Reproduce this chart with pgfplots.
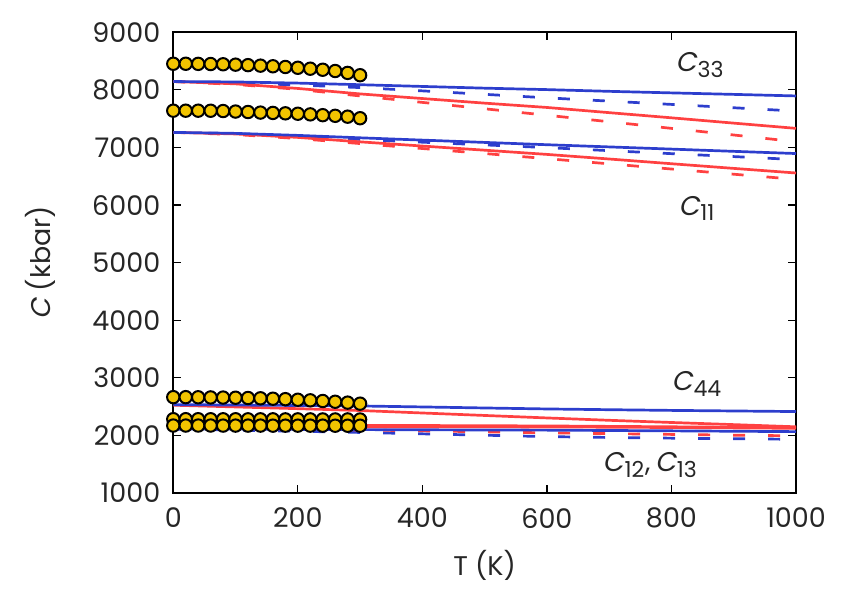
\documentclass[border=0pt]{standalone}
\usepackage{fontspec}
\setmainfont{Poppins}
\newfontfamily\slfont[FakeSlant=0.2]{Poppins}
\usepackage{pgfplots}
\pgfplotsset{compat=1.18}
\usetikzlibrary{calc}
\definecolor{myblue}{RGB}{45,62,205}
\definecolor{myred}{RGB}{255,65,65}
\definecolor{mygold}{RGB}{242,196,0}
\newcommand{\Cs}[1]{{\slfont C}\kern0.5pt\textsubscript{\fontsize{11pt}{11pt}\selectfont #1}}
\pgfplotsset{
  circ/.style={only marks, mark=*, mark size=3.1pt, mark options={fill=mygold, draw=black, line width=1pt}},
  sol/.style={line width=1.35pt, no markers},
  dsh/.style={line width=1.35pt, no markers, dash pattern=on 6pt off 11.5pt},
}
\begin{document}
\begin{tikzpicture}
\begin{axis}[
  width=311.4pt, height=230.4pt, scale only axis,
  xmin=0, xmax=1000, ymin=1000, ymax=9000,
  xtick={0,200,...,1000}, ytick={1000,2000,...,9000},
  tick align=inside, major tick length=4pt,
  tick style={black, line width=0.6pt},
  axis line style={black, line width=1pt},
  /pgf/number format/.cd, 1000 sep={}, assume math mode=true,
  /pgfplots/.cd,
  tick label style={font=\fontsize{13.5pt}{14pt}\selectfont, text=black!85},
  label style={font=\fontsize{13.5pt}{14pt}\selectfont, text=black!85},
  xlabel={T (K)}, ylabel={{\slfont C} (kbar)},
  xlabel style={at={(axis description cs:0.5,-0.156)}, anchor=center},
  ylabel style={at={(axis description cs:-0.2135,0.5)}, anchor=center, rotate=0},
  yticklabel style={xshift=-3pt},
  xticklabel style={yshift=-4pt},
  clip=true,
]
% ---- C33 ----
\addplot[myred, dsh] coordinates {(0,8145)(100,8095)(200,8010)(300,7895)(400,7783)(500,7672)(600,7560)(700,7447)(800,7332)(900,7217)(1000,7100)};
\addplot[myblue, dsh] coordinates {(0,8145)(100,8120)(200,8085)(300,8040)(400,7983)(500,7923)(600,7862)(700,7805)(800,7748)(900,7690)(1000,7632)};
\addplot[myred, sol] coordinates {(0,8145)(100,8105)(200,8025)(300,7930)(400,7850)(500,7770)(600,7695)(700,7605)(800,7515)(900,7423)(1000,7332)};
\addplot[myblue, sol] coordinates {(0,8145)(100,8138)(200,8118)(300,8090)(400,8060)(500,8030)(600,8005)(700,7975)(800,7948)(900,7922)(1000,7895)};
% ---- C11 ----
\addplot[myred, dsh] coordinates {(0,7262)(100,7225)(200,7155)(300,7068)(400,6982)(500,6895)(600,6806)(700,6716)(800,6626)(900,6536)(1000,6446)};
\addplot[myblue, dsh] coordinates {(0,7262)(100,7240)(200,7195)(300,7140)(400,7092)(500,7045)(600,6998)(700,6945)(800,6893)(900,6842)(1000,6790)};
\addplot[myred, sol] coordinates {(0,7262)(100,7235)(200,7175)(300,7098)(400,7025)(500,6953)(600,6880)(700,6800)(800,6718)(900,6637)(1000,6557)};
\addplot[myblue, sol] coordinates {(0,7262)(100,7245)(200,7210)(300,7168)(400,7128)(500,7088)(600,7048)(700,7010)(800,6972)(900,6933)(1000,6895)};
% ---- C12, C13 ----
\addplot[myblue, dsh] coordinates {(0,2110)(100,2092)(200,2073)(300,2052)(400,2028)(500,2004)(600,1980)(700,1965)(800,1953)(900,1943)(1000,1933)};
\addplot[myred, dsh] coordinates {(0,2130)(100,2120)(200,2108)(300,2095)(400,2080)(500,2063)(600,2045)(700,2032)(800,2018)(900,2005)(1000,1993)};
\addplot[myblue, sol] coordinates {(0,2115)(200,2105)(400,2098)(600,2092)(800,2080)(1000,2066)};
\addplot[myred, sol] coordinates {(0,2160)(200,2152)(400,2150)(600,2148)(800,2138)(1000,2124)};
\addplot[myred, sol] coordinates {(0,2185)(200,2178)(400,2172)(600,2165)(800,2150)(1000,2135)};
% ---- C44 ----
\addplot[myred, sol] coordinates {(0,2525)(100,2495)(200,2465)(300,2433)(400,2390)(500,2347)(600,2304)(700,2263)(800,2225)(900,2188)(1000,2150)};
\addplot[myblue, sol] coordinates {(0,2535)(100,2528)(200,2520)(300,2512)(400,2495)(500,2477)(600,2460)(700,2447)(800,2435)(900,2425)(1000,2415)};
% ---- circles ----
\addplot[circ] coordinates {(0,8454)(20,8454)(40,8452)(60,8449)(80,8445)(100,8438)(120,8430)(140,8421)(160,8410)(180,8398)(200,8384)(220,8368)(240,8350)(260,8328)(280,8295)(300,8255)};
\addplot[circ] coordinates {(0,7639)(20,7639)(40,7639)(60,7638)(80,7633)(100,7624)(120,7616)(140,7606)(160,7600)(180,7593)(200,7586)(220,7575)(240,7561)(260,7550)(280,7535)(300,7508)};
\addplot[circ] coordinates {(0,2665)(20,2665)(40,2663)(60,2660)(80,2658)(100,2655)(120,2650)(140,2645)(160,2638)(180,2630)(200,2620)(220,2610)(240,2598)(260,2585)(280,2570)(300,2552)};
\addplot[circ] coordinates {(0,2282)(20,2282)(40,2282)(60,2281)(80,2281)(100,2281)(120,2280)(140,2280)(160,2280)(180,2279)(200,2279)(220,2279)(240,2278)(260,2278)(280,2278)(300,2277)};
\addplot[circ] coordinates {(0,2172)(20,2172)(40,2172)(60,2172)(80,2171)(100,2171)(120,2171)(140,2171)(160,2170)(180,2170)(200,2170)(220,2170)(240,2170)(260,2169)(280,2169)(300,2169)};
% ---- labels ----
\node[font=\fontsize{13.5pt}{14pt}\selectfont, text=black!85] at (axis cs:846,8436) {\Cs{33}};
\node[font=\fontsize{13.5pt}{14pt}\selectfont, text=black!85] at (axis cs:841,5941) {\Cs{11}};
\node[font=\fontsize{13.5pt}{14pt}\selectfont, text=black!85] at (axis cs:841,2887) {\Cs{44}};
\node[font=\fontsize{13.5pt}{14pt}\selectfont, text=black!85] at (axis cs:766,1490) {\Cs{12},\,\Cs{13}};
\end{axis}
\pgfresetboundingbox
\path ($(current axis.south west)+(-86.65pt,-48pt)$) rectangle ($(current axis.north east)+(28.5pt,16.15pt)$);
\end{tikzpicture}
\end{document}
